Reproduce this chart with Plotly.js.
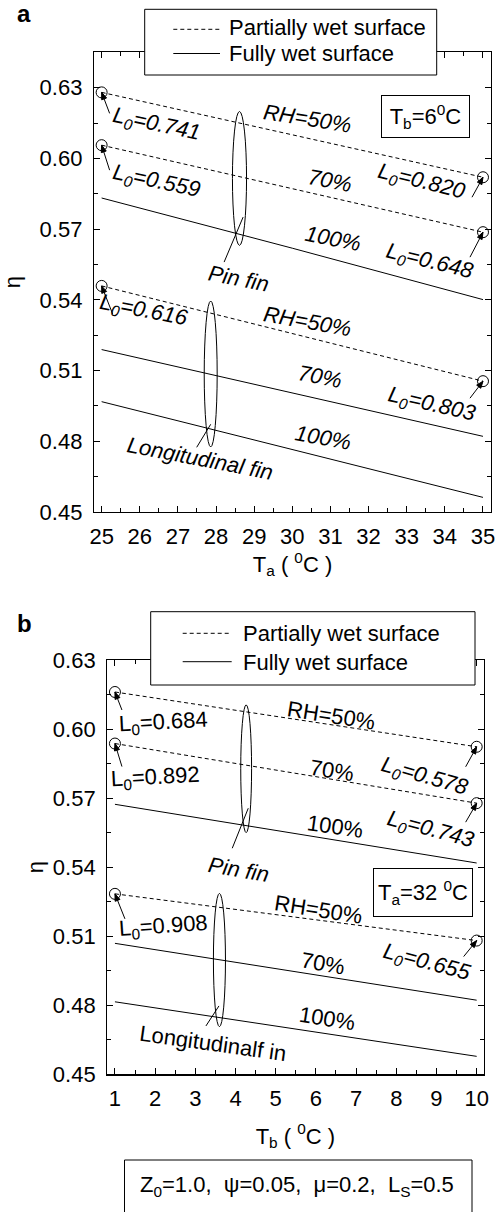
<!DOCTYPE html>
<html>
<head>
<meta charset="utf-8">
<script src="https://cdn.plot.ly/plotly-3.0.1.min.js"></script>
<style>html,body{margin:0;padding:0;background:#fff;}#chart{width:500px;height:1212px;}</style>
</head>
<body>
<div id="chart"></div>
<script>
// ---------- data (panel a: eta vs Ta, Tb = 6 C) ----------
const taVals = [25, 30, 35];
const pinRH50A  = [0.628, 0.610, 0.592];
const pinRH70A  = [0.6056, 0.5872, 0.5687];
const pinRH100A = [0.5832, 0.5619, 0.5401];
const lonRH50A  = [0.5459, 0.5257, 0.5055];
const lonRH70A  = [0.5189, 0.5005, 0.4821];
const lonRH100A = [0.4968, 0.4765, 0.4562];
const l0LabelsA = ['0.741', '0.820', '0.559', '0.648', '0.616', '0.803'];

// ---------- data (panel b: eta vs Tb, Ta = 32 C) ----------
const tbVals = [1, 5, 10];
const pinRH50B  = [0.6161, 0.6055, 0.5923];
const pinRH70B  = [0.5937, 0.5822, 0.5678];
const pinRH100B = [0.5673, 0.5560, 0.5418];
const lonRH50B  = [0.5284, 0.5194, 0.5081];
const lonRH70B  = [0.5069, 0.4959, 0.4822];
const lonRH100B = [0.4815, 0.4710, 0.4578];
const l0LabelsB = ['0.684', '0.578', '0.892', '0.743', '0.908', '0.655'];

const seriesNames = ['Partially wet surface', 'Fully wet surface'];
const xTicksA = [25, 26, 27, 28, 29, 30, 31, 32, 33, 34, 35];
const xTicksB = [1, 2, 3, 4, 5, 6, 7, 8, 9, 10];
const yTicks = [0.45, 0.48, 0.51, 0.54, 0.57, 0.60, 0.63];

// ---------- traces ----------
const DASH = '4px,3px';
function tr(x, y, partial, xa, ya) {
  return {
    x: x, y: y, type: 'scatter', mode: 'lines',
    xaxis: xa, yaxis: ya,
    name: partial ? seriesNames[0] : seriesNames[1],
    showlegend: false, hoverinfo: 'skip',
    line: {color: '#000', width: 1, dash: partial ? DASH : 'solid'}
  };
}
const data = [
  tr(taVals, pinRH50A, true, 'x', 'y'),
  tr(taVals, pinRH70A, true, 'x', 'y'),
  tr(taVals, pinRH100A, false, 'x', 'y'),
  tr(taVals, lonRH50A, true, 'x', 'y'),
  tr(taVals, lonRH70A, false, 'x', 'y'),
  tr(taVals, lonRH100A, false, 'x', 'y'),
  tr(tbVals, pinRH50B, true, 'x2', 'y2'),
  tr(tbVals, pinRH70B, true, 'x2', 'y2'),
  tr(tbVals, pinRH100B, false, 'x2', 'y2'),
  tr(tbVals, lonRH50B, true, 'x2', 'y2'),
  tr(tbVals, lonRH70B, false, 'x2', 'y2'),
  tr(tbVals, lonRH100B, false, 'x2', 'y2')
];

// ---------- axes ----------
const FONT = 'Liberation Sans, Arial, Helvetica, sans-serif';
const FS = 22;
function xax(domain, range, ticks, title, anchor, standoff) {
  return {
    domain: domain, range: range, anchor: anchor,
    tickmode: 'array', tickvals: ticks, ticktext: ticks.map(String),
    ticks: 'inside', ticklen: 6, tickwidth: 1, tickcolor: '#000',
    minor: {dtick: 0.5, ticks: 'inside', ticklen: 4, tickwidth: 1, tickcolor: '#000', showgrid: false},
    showline: true, linewidth: 1.2, linecolor: '#000', mirror: 'ticks',
    showgrid: false, zeroline: false, automargin: false,
    ticklabelstandoff: 4,
    tickfont: {size: FS, family: FONT, color: '#000'},
    title: {text: title, font: {size: FS, family: FONT, color: '#000'}, standoff: standoff}
  };
}
function yax(domain, range, anchor, standoff) {
  return {
    domain: domain, range: range, anchor: anchor,
    tickmode: 'array', tickvals: yTicks, ticktext: yTicks.map(v => v.toFixed(2)),
    ticks: 'inside', ticklen: 6, tickwidth: 1, tickcolor: '#000',
    minor: {dtick: 0.015, tick0: 0.45, ticks: 'inside', ticklen: 4, tickwidth: 1, tickcolor: '#000', showgrid: false},
    showline: true, linewidth: 1.2, linecolor: '#000', mirror: 'ticks',
    showgrid: false, zeroline: false, automargin: false,
    ticklabelstandoff: 6,
    tickfont: {size: FS, family: FONT, color: '#000'},
    title: {text: '\u03b7', font: {size: FS, family: FONT, color: '#000'}, standoff: standoff}
  };
}

// ---------- annotations ----------
const ann = [];
function lab(text, x, y, ang, xr, yr, italic) {
  ann.push({text: italic ? '<i>' + text + '</i>' : text, x: x, y: y, xref: xr, yref: yr,
    textangle: ang, showarrow: false, font: {size: FS, family: FONT, color: '#000'}});
}
function ptext(text, px, py, xanchor, size) {
  ann.push({text: text, xref: 'paper', yref: 'paper', x: px / 500, y: 1 - py / 1212,
    xanchor: xanchor, yanchor: 'middle', showarrow: false,
    font: {size: size || FS, family: FONT, color: '#000'}});
}
const L0 = v => 'L<sub>0</sub>=' + v;
const last = a => a[a.length - 1];

// panel a labels
lab(L0(l0LabelsA[0]), 26.44, 0.6140, 12, 'x', 'y', true);
lab('RH=50%', 30.41, 0.6169, 9, 'x', 'y', true);
lab(L0(l0LabelsA[1]), 33.38, 0.5900, 14, 'x', 'y', true);
lab(L0(l0LabelsA[2]), 26.44, 0.5900, 12, 'x', 'y', true);
lab('70%', 30.98, 0.5907, 11, 'x', 'y', true);
lab('100%', 31.07, 0.5660, 11, 'x', 'y', true);
lab(L0(l0LabelsA[3]), 33.60, 0.5560, 14, 'x', 'y', true);
lab('Pin fin', 28.58, 0.5490, 11, 'x', 'y', true);
lab(L0(l0LabelsA[4]), 26.09, 0.5351, 11, 'x', 'y', true);
lab('RH=50%', 30.41, 0.5306, 10, 'x', 'y', true);
lab('70%', 30.72, 0.5073, 11, 'x', 'y', true);
lab(L0(l0LabelsA[5]), 33.65, 0.4952, 13, 'x', 'y', true);
lab('100%', 30.80, 0.4818, 10, 'x', 'y', true);
lab('Longitudinal fin', 27.58, 0.4726, 11, 'x', 'y', true);

// panel b labels
lab(L0(l0LabelsB[0]), 2.20, 0.6025, -3, 'x2', 'y2', false);
lab('RH=50%', 6.39, 0.6061, 9, 'x2', 'y2', false);
lab('70%', 6.39, 0.5822, 9, 'x2', 'y2', false);
lab(L0(l0LabelsB[1]), 8.71, 0.5793, 16, 'x2', 'y2', true);
lab('100%', 6.47, 0.5576, 8, 'x2', 'y2', false);
lab(L0(l0LabelsB[3]), 8.84, 0.5561, 15, 'x2', 'y2', true);
lab('Pin fin', 4.07, 0.5388, 10, 'x2', 'y2', true);
lab(L0(l0LabelsB[2]), 2.00, 0.5786, -3, 'x2', 'y2', false);
lab(L0(l0LabelsB[4]), 2.20, 0.5141, -4, 'x2', 'y2', false);
lab('RH=50%', 6.06, 0.5214, 9, 'x2', 'y2', false);
lab('70%', 6.18, 0.4982, 10, 'x2', 'y2', false);
lab(L0(l0LabelsB[5]), 8.76, 0.4982, 15, 'x2', 'y2', true);
lab('100%', 6.27, 0.4743, 9, 'x2', 'y2', false);
lab('Longitudinalf in', 3.45, 0.4635, 8, 'x2', 'y2', false);

// boxed condition labels
ann.push({text: 'T<sub>b</sub>=6<sup>0</sup>C', xref: 'paper', yref: 'paper', x: 425.5 / 500, y: 1 - 117 / 1212,
  xanchor: 'center', yanchor: 'middle', showarrow: false, width: 85, height: 39, borderpad: 1,
  bordercolor: '#000', borderwidth: 1, bgcolor: '#fff', font: {size: FS, family: FONT, color: '#000'}});
ann.push({text: 'T<sub>a</sub>=32 <sup>0</sup>C', xref: 'paper', yref: 'paper', x: 423 / 500, y: 1 - 892.5 / 1212,
  xanchor: 'center', yanchor: 'middle', showarrow: false, width: 96, height: 45, borderpad: 1,
  bordercolor: '#000', borderwidth: 1, bgcolor: '#fff', font: {size: FS, family: FONT, color: '#000'}});
// legend texts
ptext(seriesNames[0], 227, 28, 'left');
ptext(seriesNames[1], 227, 53.5, 'left');
ptext(seriesNames[0], 240.5, 633.5, 'left');
ptext(seriesNames[1], 240.5, 662.5, 'left');
// bottom parameter box text
ptext('Z<sub>0</sub>=1.0,\u00a0\u00a0\u03c8=0.05,\u00a0\u00a0\u03bc=0.2,\u00a0\u00a0L<sub>S</sub>=0.5', 297, 1186, 'center');
// panel letters
ptext('<b>a</b>', 24, 13, 'center', 24);
ptext('<b>b</b>', 24, 623, 'center', 24);

// ---------- shapes ----------
const shapes = [];
function ring(x, y, xr, yr) {
  shapes.push({type: 'circle', xref: xr, yref: yr, xsizemode: 'pixel', ysizemode: 'pixel',
    xanchor: x, yanchor: y, x0: -5.5, x1: 5.5, y0: -5.5, y1: 5.5, line: {color: '#000', width: 1}});
}
// arrow / pointer line anchored at (x,y); tail offset dx (right), dy (down) in px
function pointer(x, y, dx, dy, xr, yr, withHead) {
  const tx = dx, ty = -dy;
  shapes.push({type: 'path', xref: xr, yref: yr, xsizemode: 'pixel', ysizemode: 'pixel',
    xanchor: x, yanchor: y, path: 'M' + tx + ',' + ty + 'L0,0', line: {color: '#000', width: 1}});
  if (withHead) {
    const L = Math.hypot(tx, ty), ux = -tx / L, uy = -ty / L;
    const hl = 7, hw = 2.6;
    const bx = -ux * hl, by = -uy * hl, nx = -uy * hw, ny = ux * hw;
    shapes.push({type: 'path', xref: xr, yref: yr, xsizemode: 'pixel', ysizemode: 'pixel',
      xanchor: x, yanchor: y,
      path: 'M0,0L' + (bx + nx).toFixed(2) + ',' + (by + ny).toFixed(2) + 'L' + (bx - nx).toFixed(2) + ',' + (by - ny).toFixed(2) + 'Z',
      fillcolor: '#000', line: {color: '#000', width: 1}});
  }
}
ring(taVals[0], pinRH50A[0], 'x', 'y');
ring(taVals[0], pinRH70A[0], 'x', 'y');
ring(last(taVals), last(pinRH50A), 'x', 'y');
ring(last(taVals), last(pinRH70A), 'x', 'y');
ring(taVals[0], lonRH50A[0], 'x', 'y');
ring(last(taVals), last(lonRH50A), 'x', 'y');
ring(tbVals[0], pinRH50B[0], 'x2', 'y2');
ring(tbVals[0], pinRH70B[0], 'x2', 'y2');
ring(last(tbVals), last(pinRH50B), 'x2', 'y2');
ring(last(tbVals), last(pinRH70B), 'x2', 'y2');
ring(tbVals[0], lonRH50B[0], 'x2', 'y2');
ring(last(tbVals), last(lonRH50B), 'x2', 'y2');
// arrows (panel a)
pointer(taVals[0], pinRH50A[0], 8, 21, 'x', 'y', true);
pointer(taVals[0], pinRH70A[0], 8, 25, 'x', 'y', true);
pointer(last(taVals), last(pinRH50A), -11, 20, 'x', 'y', true);
pointer(last(taVals), last(pinRH70A), -13, 25, 'x', 'y', true);
pointer(taVals[0], lonRH50A[0], 11, 28, 'x', 'y', true);
pointer(last(taVals), last(lonRH50A), -13, 17, 'x', 'y', true);
pointer(28.71, 0.5751, -19, 45, 'x', 'y', false);
pointer(27.86, 0.4872, -14, 23, 'x', 'y', false);
// arrows (panel b)
pointer(tbVals[0], pinRH50B[0], 7, 18, 'x2', 'y2', true);
pointer(tbVals[0], pinRH70B[0], 7, 23, 'x2', 'y2', true);
pointer(last(tbVals), last(pinRH50B), -11, 20, 'x2', 'y2', true);
pointer(last(tbVals), last(pinRH70B), -11, 19, 'x2', 'y2', true);
pointer(tbVals[0], lonRH50B[0], 10, 25, 'x2', 'y2', true);
pointer(last(tbVals), last(lonRH50B), -13, 16, 'x2', 'y2', true);
pointer(4.317, 0.5656, -16, 40, 'x2', 'y2', false);
pointer(3.588, 0.4797, -13, 20, 'x2', 'y2', false);
// group ellipses
shapes.push({type: 'circle', xref: 'x', yref: 'y', x0: 28.43, x1: 28.80, y0: 0.5631, y1: 0.6199, line: {color: '#000', width: 1}});
shapes.push({type: 'circle', xref: 'x', yref: 'y', x0: 27.69, x1: 28.03, y0: 0.4776, y1: 0.5395, line: {color: '#000', width: 1}});
shapes.push({type: 'circle', xref: 'x2', yref: 'y2', x0: 4.13, x1: 4.40, y0: 0.5550, y1: 0.6105, line: {color: '#000', width: 1}});
shapes.push({type: 'circle', xref: 'x2', yref: 'y2', x0: 3.45, x1: 3.75, y0: 0.4707, y1: 0.5286, line: {color: '#000', width: 1}});
// legend frames (white, cover the top frame) and samples
function pRect(x0, y0, x1, y1, fill, layer) {
  shapes.push({type: 'rect', xref: 'paper', yref: 'paper', layer: layer, x0: x0 / 500, x1: x1 / 500,
    y0: 1 - y1 / 1212, y1: 1 - y0 / 1212, fillcolor: fill, line: {color: '#000', width: 1}});
}
function pLine(x0, x1, y, dash) {
  shapes.push({type: 'line', xref: 'paper', yref: 'paper', layer: 'above', x0: x0 / 500, x1: x1 / 500,
    y0: 1 - y / 1212, y1: 1 - y / 1212, line: {color: '#000', width: 1, dash: dash}});
}
pRect(144.7, 9.3, 436.7, 75, '#fff', 'above');
pLine(173.3, 220, 29.3, DASH);
pLine(173.3, 220, 53.5, 'solid');
pRect(150.7, 611.7, 475, 685, '#fff', 'above');
pLine(182.7, 231.7, 633.3, DASH);
pLine(182.7, 231.7, 661.7, 'solid');
// parameter box
pRect(124.5, 1160, 472, 1225, 'rgba(0,0,0,0)', 'above');

const layout = {
  width: 500, height: 1212,
  margin: {l: 0, r: 0, t: 0, b: 0},
  paper_bgcolor: '#fff', plot_bgcolor: '#fff',
  font: {family: FONT, size: FS, color: '#000'},
  xaxis: xax([94 / 500, 491 / 500], [24.8, 35.21], xTicksA, 'T<sub>a</sub> ( <sup>0</sup>C )', 'y', 8),
  yaxis: yax([1 - 512 / 1212, 1 - 52.3 / 1212], [0.45, 0.645], 'x', 14),
  xaxis2: xax([107.3 / 500, 483.5 / 500], [0.81, 10.17], xTicksB, 'T<sub>b</sub> ( <sup>0</sup>C )', 'y2', 18),
  yaxis2: yax([1 - 1074.3 / 1212, 1 - 660 / 1212], [0.45, 0.63], 'x2', 3),
  annotations: ann,
  shapes: shapes,
  showlegend: false
};

Plotly.newPlot('chart', data, layout, {displayModeBar: false, staticPlot: true});
</script>
</body>
</html>
